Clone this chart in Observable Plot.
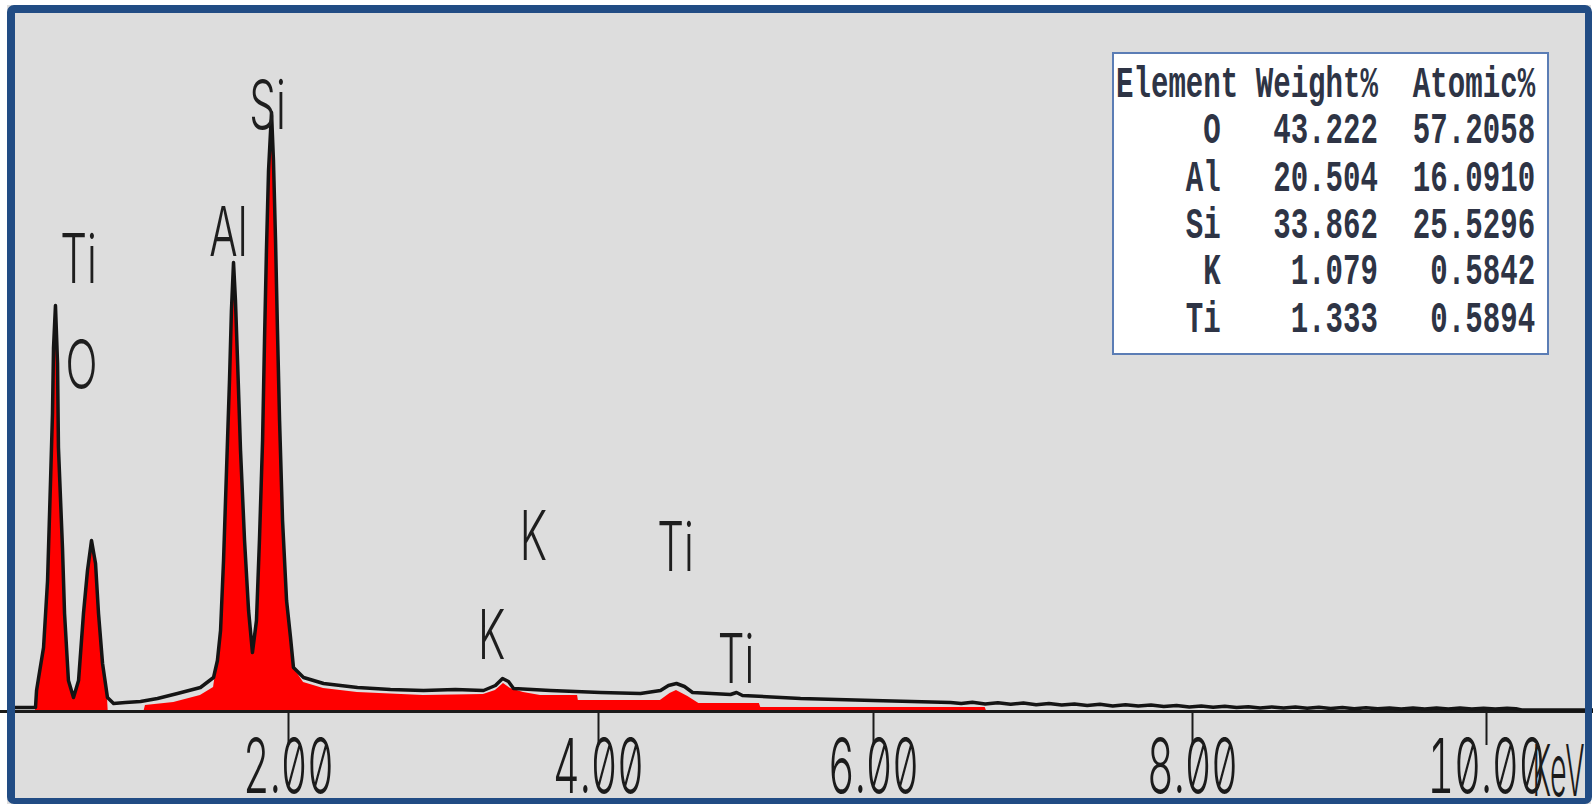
<!DOCTYPE html>
<html>
<head>
<meta charset="utf-8">
<script src="https://cdn.jsdelivr.net/npm/d3@7"></script>
<script src="https://cdn.jsdelivr.net/npm/@observablehq/plot@0.6"></script>
<style>
  html, body { margin: 0; padding: 0; background: #ffffff; }
  #wrap { position: relative; width: 1593px; height: 804px; overflow: hidden; }
  #panel { position: absolute; left: 7px; top: 5px; width: 1584px; height: 805px; background: #dddddd; }
  #chart { position: absolute; left: 0; top: 0; }
  #chart svg text { font-feature-settings: "zero" 1; }
  #frame {
    position: absolute; left: 7px; top: 5px; width: 1585px; height: 799px;
    box-sizing: border-box; border: solid #214c84; border-width: 8px 7px 6px 8px;
    border-radius: 7px; pointer-events: none;
  }
  #table {
    position: absolute; left: 1112px; top: 52px; width: 437px; height: 303px;
    box-sizing: border-box; background: #ffffff; border: 2px solid #5b7db5; overflow: hidden;
  }
  #table pre {
    position: absolute; left: 2px; top: 8px; margin: 0;
    font-family: "Liberation Mono", "DejaVu Sans Mono", monospace; font-size: 30px;
    line-height: 31.33px; color: #2e3445; font-weight: bold;
    transform-origin: 0 0; transform: scale(0.97, 1.5);
  }
</style>
</head>
<body>
<div id="wrap">
  <div id="panel"></div>
  <div id="chart"></div>
  <div id="table"><pre id="quant"></pre></div>
  <div id="frame"></div>
</div>
<script>
// EDS spectrum: measured counts (black trace)
const energy = [
  0.161, 0.302, 0.309, 0.322, 0.356, 0.383, 0.403, 0.416, 0.423, 0.436,
  0.450, 0.456, 0.483, 0.497, 0.523, 0.557, 0.591, 0.624, 0.651, 0.678,
  0.705, 0.725, 0.752, 0.785, 0.826, 0.906, 1.007, 1.121, 1.255, 1.409,
  1.497, 1.523, 1.544, 1.564, 1.584, 1.604, 1.617, 1.631, 1.644, 1.658,
  1.678, 1.705, 1.732, 1.758, 1.785, 1.805, 1.826, 1.839, 1.852, 1.866,
  1.886, 1.899, 1.913, 1.926, 1.940, 1.960, 1.987, 2.013, 2.032, 2.097,
  2.226, 2.445, 2.658, 2.871, 3.077, 3.258, 3.335, 3.381, 3.419, 3.452,
  3.690, 4.015, 4.305, 4.451, 4.509, 4.567, 4.625, 4.684, 4.960, 5.004,
  5.047, 5.469, 6.000, 6.483,
  6.55, 6.62, 6.70, 6.78, 6.86, 6.94, 7.02, 7.10, 7.18, 7.26,
  7.34, 7.42, 7.50, 7.58, 7.66, 7.74, 7.82, 7.90, 7.98, 8.06,
  8.14, 8.22, 8.30, 8.38, 8.46, 8.54, 8.62, 8.70, 8.78, 8.86,
  8.94, 9.02, 9.10, 9.18, 9.26, 9.34, 9.42, 9.50, 9.58, 9.66,
  9.74, 9.82, 9.90, 9.98, 10.06, 10.14, 10.20, 10.24, 10.72
];
const counts = [
  20, 20, 105, 165, 320, 655, 1155, 1490, 1820, 2030,
  1740, 1320, 820, 490, 155, 70, 155, 490, 705, 855,
  740, 490, 240, 70, 40, 45, 50, 65, 90, 120,
  170, 255, 405, 755, 1205, 1655, 2005, 2245, 2055, 1755,
  1305, 855, 505, 295, 455, 855, 1355, 1855, 2305, 2705,
  2995, 2755, 2355, 1905, 1455, 955, 555, 370, 220, 170,
  140, 120, 110, 105, 110, 105, 130, 165, 150, 115,
  105, 95, 90, 105, 130, 140, 125, 95, 85, 95,
  80, 65, 55, 45,
  40, 46, 38, 44, 36, 42, 34, 40, 32, 38,
  30, 36, 28, 34, 27, 32, 25, 30, 23, 28,
  21, 26, 20, 24, 18, 23, 17, 22, 16, 21,
  15, 20, 14, 19, 14, 18, 13, 18, 13, 17,
  12, 17, 12, 16, 12, 16, 14, 8, 8
];

// Fitted element contribution (red fill)
const fitEnergy = [
  0.302, 0.309, 0.322, 0.356, 0.383, 0.403, 0.416, 0.423, 0.436, 0.450,
  0.456, 0.483, 0.497, 0.523, 0.557, 0.591, 0.624, 0.651, 0.678, 0.705,
  0.725, 0.752, 0.785, 0.790,
  1.030, 1.040, 1.230, 1.409, 1.497, 1.523, 1.544, 1.564, 1.584, 1.604,
  1.617, 1.631, 1.644, 1.658, 1.678, 1.705, 1.732, 1.758, 1.785, 1.805,
  1.826, 1.839, 1.852, 1.866, 1.886, 1.899, 1.913, 1.926, 1.940, 1.960,
  1.987, 2.013, 2.032, 2.097, 2.226, 2.445, 2.871, 3.258, 3.335, 3.387,
  3.432, 3.516, 3.626, 3.865, 3.870, 4.450, 4.520, 4.567, 4.650, 4.730,
  5.170, 5.180, 6.700, 6.710
];
const fitCounts = [
  0, 105, 165, 320, 655, 1155, 1490, 1820, 2030, 1740,
  1320, 820, 490, 155, 70, 155, 490, 705, 855, 740,
  490, 240, 70, 0,
  0, 30, 45, 80, 120, 255, 405, 755, 1205, 1655,
  2005, 2245, 2055, 1755, 1305, 855, 505, 295, 455, 855,
  1355, 1855, 2305, 2705, 2995, 2755, 2355, 1905, 1455, 955,
  555, 370, 220, 145, 115, 95, 80, 85, 105, 140,
  115, 95, 80, 80, 55, 55, 90, 105, 75, 40,
  40, 20, 20, 0
];

// Peak identification labels
const peakLabels = ["Ti", "O", "Al", "Si", "K", "K", "Ti", "Ti"];
const peakEnergy = [0.591, 0.611, 1.597, 1.859, 3.58, 3.31, 4.56, 5.00];
const peakCounts = [2250, 1720, 2385, 3020, 865, 370, 810, 250];

// Energy axis
const tickValues = [2, 4, 6, 8, 10];
const axisUnit = "KeV";

// Quantification results
const elements = ["O", "Al", "Si", "K", "Ti"];
const weightPct = [43.222, 20.504, 33.862, 1.079, 1.333];
const atomicPct = [57.2058, 16.0910, 25.5296, 0.5842, 0.5894];

const spectrum = energy.map((e, i) => ({e, c: counts[i]}));
const fit = fitEnergy.map((e, i) => ({e, c: fitCounts[i]}));
const labels = peakLabels.map((t, i) => ({t, e: peakEnergy[i], c: peakCounts[i]}));
const unit = [{t: axisUnit, e: 10.49, c: -305}];

const plot = Plot.plot({
  width: 1593,
  height: 804,
  marginTop: 11,
  marginBottom: 93,
  marginLeft: 0,
  marginRight: 0,
  style: {
    background: "transparent",
    color: "#1b1b1b",
    fontFamily: "Inter, 'DejaVu Sans', sans-serif",
    fontSize: "75px",
    fontWeight: 300,
    overflow: "visible"
  },
  x: {
    type: "linear",
    domain: [0, 2, 4, 6, 8, 10, 11],
    range: [-10, 288, 598, 873, 1192, 1486, 1633],
    ticks: tickValues,
    tickFormat: d => d.toFixed(2),
    tickSize: 34,
    tickPadding: -6,
    label: null
  },
  y: {domain: [0, 3500], axis: null},
  marks: [
    Plot.areaY(fit, {x: "e", y: "c", fill: "#ff0000"}),
    Plot.ruleY([0], {stroke: "#1b1b1b", strokeWidth: 3}),
    Plot.line(spectrum, {x: "e", y: "c", stroke: "#141414", strokeWidth: 3.5}),
    Plot.text(labels, {x: "e", y: "c", text: "t", fontSize: 68, fill: "#1e1e1e"}),
    Plot.text(unit, {x: "e", y: "c", text: "t", fontSize: 72, fill: "#1b1b1b"})
  ]
});

document.getElementById("chart").append(plot);

// Narrow lettering, as on the instrument printout
plot.querySelectorAll("text").forEach(t => {
  const factor = t.closest('[aria-label^="x-axis"]') ? 0.55
    : t.textContent === axisUnit ? 0.4
    : 0.62;
  const w = t.getComputedTextLength();
  if (w > 0) {
    t.setAttribute("textLength", (w * factor).toFixed(1));
    t.setAttribute("lengthAdjust", "spacingAndGlyphs");
  }
});
plot.querySelectorAll('[aria-label^="x-axis tick"] path, [aria-label="x-axis"] line')
  .forEach(p => p.setAttribute("stroke-width", 2));

// Quantification table
const header = "Element" + " Weight%" + "  Atomic%";
const rows = elements.map((el, i) =>
  el.padStart(6) + weightPct[i].toFixed(3).padStart(9) + atomicPct[i].toFixed(4).padStart(9));
document.getElementById("quant").textContent = [header, ...rows].join("\n");
</script>
</body>
</html>
